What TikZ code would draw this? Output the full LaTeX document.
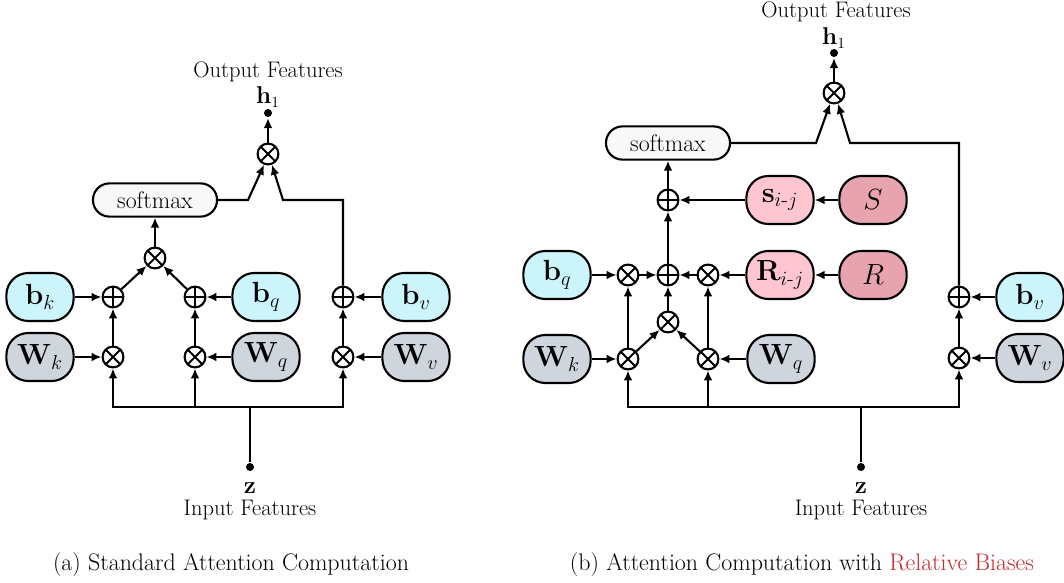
\documentclass[tikz,border=0pt]{standalone}
\usepackage{amsmath}
\usetikzlibrary{arrows.meta}
\definecolor{cyanbox}{HTML}{CCF4FB}
\definecolor{greybox}{HTML}{CED5DD}
\definecolor{pinkbox}{HTML}{FFC6D2}
\definecolor{rosebox}{HTML}{E8A4AE}
\definecolor{softfill}{HTML}{F8F8F8}
\definecolor{capred}{HTML}{C8282D}
\begin{document}
\begin{tikzpicture}[x=0.025cm,y=-0.025cm,line width=1.5pt,
  arr/.style={-{Latex[length=2.5mm,width=2.2mm]}},
  lbl/.style={font=\fontsize{16}{19}\selectfont},
  captxt/.style={font=\fontsize{17}{20}\selectfont},
  box/.style={draw,rounded corners=0.55cm,minimum width=1.68cm,minimum height=1.2cm,inner sep=0pt,font=\fontsize{21}{24}\selectfont},
  bbox/.style={box,fill=cyanbox}, wbox/.style={box,fill=greybox},
  rbox/.style={box,fill=pinkbox}, pbox/.style={box,fill=rosebox},
  sbox/.style={draw,fill=softfill,rounded corners=0.41cm,minimum width=3.1cm,minimum height=0.83cm,font=\fontsize{17}{20}\selectfont},
  opnode/.style={draw,circle,minimum size=0.52cm,inner sep=0pt,fill=white},
  otimesn/.style={opnode,path picture={\draw[line width=1.3pt]
    ([shift={(45:0.26cm)}]path picture bounding box.center) -- ([shift={(225:0.26cm)}]path picture bounding box.center)
    ([shift={(135:0.26cm)}]path picture bounding box.center) -- ([shift={(315:0.26cm)}]path picture bounding box.center);}},
  oplusn/.style={opnode,path picture={\draw[line width=1.3pt]
    ([shift={(0:0.26cm)}]path picture bounding box.center) -- ([shift={(180:0.26cm)}]path picture bounding box.center)
    ([shift={(90:0.26cm)}]path picture bounding box.center) -- ([shift={(270:0.26cm)}]path picture bounding box.center);}},
  dotn/.style={circle,fill,inner sep=0pt,minimum size=0.2cm}]
\useasboundingbox (0,0) rectangle (1064,583);

% (a) standard attention
\node[lbl] (outA) at (268,72) {Output Features};
\node[lbl] (hA) at (268,97) {$\mathbf{h}_1$};
\node[dotn] (odA) at (268,113) {};
\node[otimesn] (tA) at (268,154) {};
\node[sbox] (softA) at (155,200) {softmax};
\node[otimesn] (mA) at (155,258) {};
\node[oplusn] (pK) at (113,297) {}; \node[oplusn] (pQ) at (195,297) {}; \node[oplusn] (pV) at (343,297) {};
\node[bbox] (bK) at (40,297) {$\mathbf{b}_k$}; \node[bbox] (bQ) at (266,297) {$\mathbf{b}_q$}; \node[bbox] (bV) at (416,297) {$\mathbf{b}_v$};
\node[otimesn] (xK) at (113,357) {}; \node[otimesn] (xQ) at (195,357) {}; \node[otimesn] (xV) at (343,357) {};
\node[wbox] (WK) at (40,357) {$\mathbf{W}_k$}; \node[wbox] (WQ) at (266,357) {$\mathbf{W}_q$}; \node[wbox] (WV) at (416,357) {$\mathbf{W}_v$};
\coordinate (jA) at (250,407);
\node[dotn] (idA) at (250,467) {};
\node[lbl] (zA) at (250,488) {$\mathbf{z}$};
\node[lbl] (inA) at (250,510) {Input Features};
\node[captxt] (capA) at (231,565) {(a) Standard Attention Computation};

\draw[arr] (tA) -- (odA);
\draw[arr] (softA.east) -- (248,200) -- (tA.250);
\draw[arr] (pV.north) |- (283,200) -- (tA.290);
\draw[arr] (mA) -- (softA);
\draw[arr] (pK) -- (mA); \draw[arr] (pQ) -- (mA);
\draw[arr] (bK) -- (pK); \draw[arr] (bQ) -- (pQ); \draw[arr] (bV) -- (pV);
\draw[arr] (xK) -- (pK); \draw[arr] (xQ) -- (pQ); \draw[arr] (xV) -- (pV);
\draw[arr] (WK) -- (xK); \draw[arr] (WQ) -- (xQ); \draw[arr] (WV) -- (xV);
\draw (idA) -- (jA);
\draw[arr] (jA) -| (xK); \draw[arr] (jA) -| (xQ); \draw[arr] (jA) -| (xV);

% (b) relative biases
\node[lbl] (outB) at (836,12) {Output Features};
\node[lbl] (hB) at (834,38) {$\mathbf{h}_1$};
\node[dotn] (odB) at (834,53) {};
\node[otimesn] (tB) at (834,93) {};
\node[sbox] (softB) at (668,143) {softmax};
\node[oplusn] (pS) at (668,200) {};
\node[rbox] (sB) at (780,200) {$\mathbf{s}_{i\text{-}j}$};
\node[pbox] (SB) at (873,200) {$S$};
\node[bbox] (bqB) at (557,275) {$\mathbf{b}_q$};
\node[otimesn] (xA) at (628,275) {};
\node[oplusn] (pR) at (668,275) {};
\node[otimesn] (xB) at (708,275) {};
\node[rbox] (RijB) at (780,275) {$\mathbf{R}_{i\text{-}j}$};
\node[pbox] (RB) at (873,275) {$R$};
\node[otimesn] (mB) at (668,322) {};
\node[wbox] (WkB) at (557,359) {$\mathbf{W}_k$};
\node[otimesn] (xKB) at (628,359) {};
\node[otimesn] (xQB) at (708,359) {};
\node[wbox] (WqB) at (781,359) {$\mathbf{W}_q$};
\node[oplusn] (pVB) at (959,297) {}; \node[bbox] (bvB) at (1030,297) {$\mathbf{b}_v$};
\node[otimesn] (xVB) at (959,358) {}; \node[wbox] (WvB) at (1030,358) {$\mathbf{W}_v$};
\coordinate (jB) at (861,407);
\node[dotn] (idB) at (861,467) {};
\node[lbl] (zB) at (861,488) {$\mathbf{z}$};
\node[lbl] (inB) at (861,510) {Input Features};
\node[captxt] (capB) at (802,565) {(b) Attention Computation with \textcolor{capred}{Relative Biases}};

\draw[arr] (tB) -- (odB);
\draw[arr] (softB.east) -- (816,143) -- (tB.250);
\draw[arr] (pVB.north) |- (850,143) -- (tB.290);
\draw[arr] (pS) -- (softB);
\draw[arr] (sB) -- (pS); \draw[arr] (SB) -- (sB);
\draw[arr] (pR) -- (pS);
\draw[arr] (bqB) -- (xA); \draw[arr] (xA) -- (pR); \draw[arr] (xB) -- (pR);
\draw[arr] (RijB) -- (xB); \draw[arr] (RB) -- (RijB);
\draw[arr] (mB) -- (pR);
\draw[arr] (xKB) -- (xA); \draw[arr] (xQB) -- (xB);
\draw[arr] (xKB) -- (mB); \draw[arr] (xQB) -- (mB);
\draw[arr] (WkB) -- (xKB); \draw[arr] (WqB) -- (xQB);
\draw[arr] (bvB) -- (pVB); \draw[arr] (WvB) -- (xVB); \draw[arr] (xVB) -- (pVB);
\draw (idB) -- (jB);
\draw[arr] (jB) -| (xKB); \draw[arr] (jB) -| (xQB); \draw[arr] (jB) -| (xVB);
\end{tikzpicture}
\end{document}
